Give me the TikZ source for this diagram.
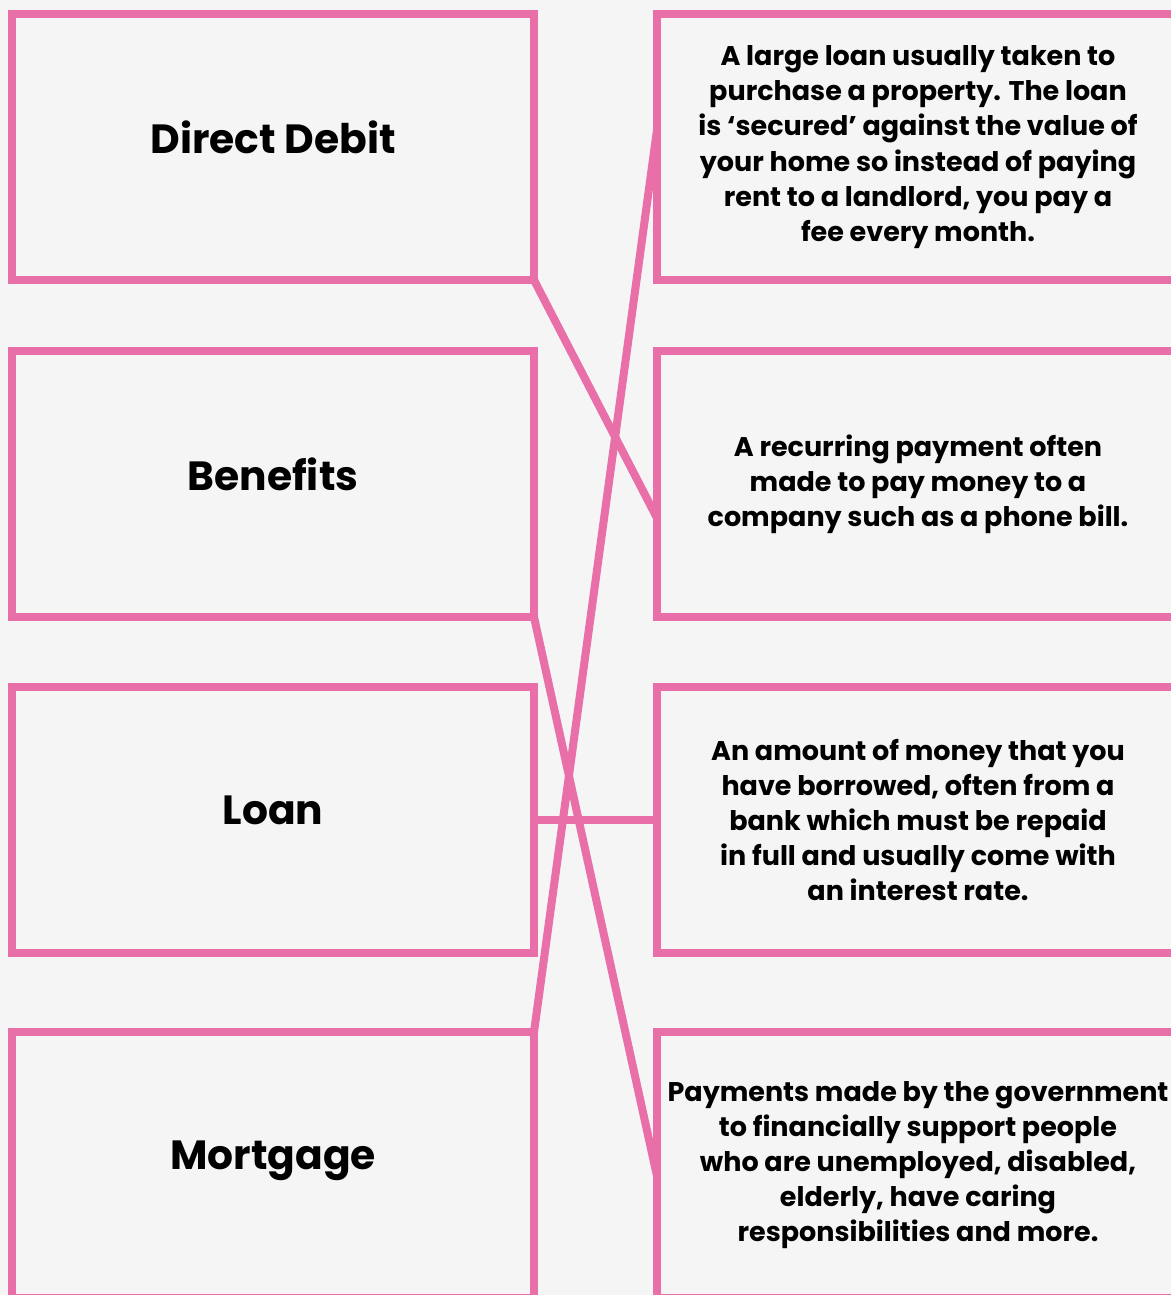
\documentclass[tikz,border=0pt]{standalone}
\usepackage{fontspec}
\setmainfont{Poppins}
\usepackage{tikz}
\usetikzlibrary{positioning}
\definecolor{cardpink}{HTML}{E96FA9}
\definecolor{pagegray}{HTML}{F5F5F5}
\tikzset{
  cardbox/.style={draw=cardpink,line width=4pt,outer sep=0pt,minimum width=261pt,minimum height=133pt},
  termbox/.style={cardbox,text depth=10pt,font=\fontsize{20.4}{25}\selectfont\bfseries},
  defbox/.style={cardbox,font=\fontsize{13.5}{17.6}\selectfont\bfseries,align=center},
  matchline/.style={draw=cardpink,line width=4pt},
}

\begin{document}
\begin{tikzpicture}[x=0.5pt,y=-0.5pt]
  \clip (0,0) rectangle (1171,1295);
  \fill[pagegray] (0,0) rectangle (1171,1295);
  % terms on the left
  \node[termbox] (debit) at (273,147) {Direct Debit};
  \node[termbox,below=35.5pt of debit] (benefits) {Benefits};
  \node[termbox,below=35pt of benefits] (loan) {Loan};
  \node[termbox,below=39.5pt of loan] (mortgage) {Mortgage};
  % definitions on the right
  \node[defbox,right=61.5pt of debit] (mortgagedef) {A large loan usually taken to\\purchase a property. The loan\\is ‘secured’ against the value of\\your home so instead of paying\\rent to a landlord, you pay a\\fee every month.};
  \node[defbox,right=61.5pt of benefits] (debitdef) {A recurring payment often\\made to pay money to a\\company such as a phone bill.};
  \node[defbox,right=61.5pt of loan] (loandef) {An amount of money that you\\have borrowed, often from a\\bank which must be repaid\\in full and usually come with\\an interest rate.};
  \node[defbox,right=61.5pt of mortgage] (benefitsdef) {Payments made by the government\\to financially support people\\who are unemployed, disabled,\\elderly, have caring\\responsibilities and more.};
  % matching lines
  \draw[matchline] (debit.south east) -- ([yshift=-17pt]debitdef.west);
  \draw[matchline] (benefits.south east) -- ([yshift=-5.5pt]benefitsdef.west);
  \draw[matchline] (loan.east) -- (loandef.west);
  \draw[matchline] (mortgage.north east) -- ([yshift=8.5pt]mortgagedef.west);
\end{tikzpicture}
\end{document}
